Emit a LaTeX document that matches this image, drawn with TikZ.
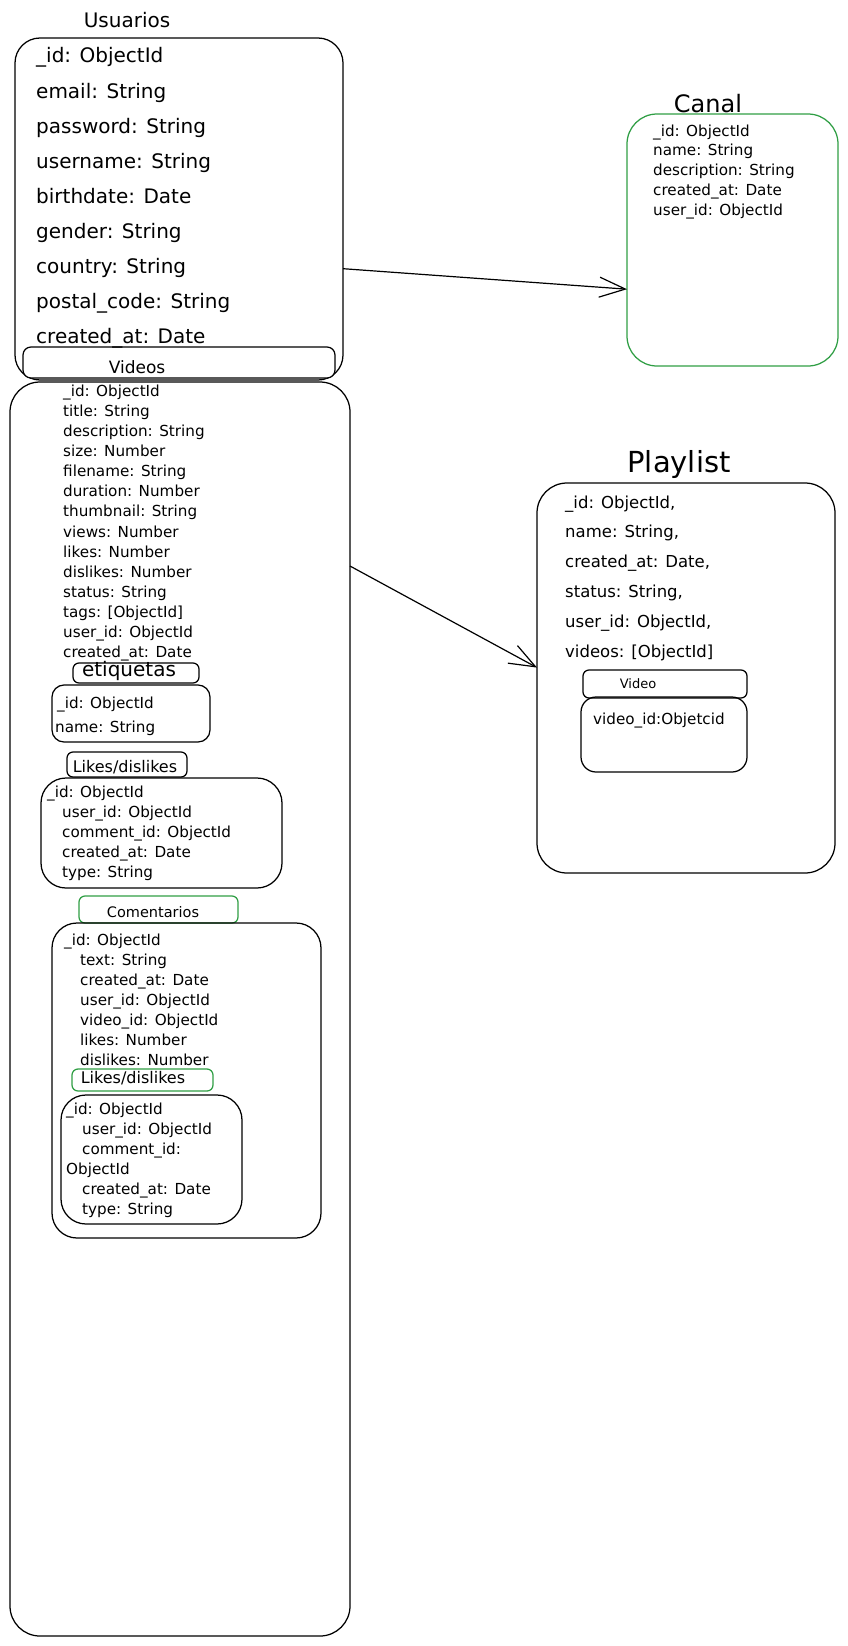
\documentclass[tikz,border=0pt]{standalone}
\usepackage{fontspec}
\setmainfont{DejaVu Sans}
\usetikzlibrary{arrows.meta,fit}
\definecolor{exgreen}{HTML}{2F9E44}
\begin{document}
\begin{tikzpicture}[x=1pt,y=-1pt,
  box/.style={draw, line width=1.25pt, inner sep=0pt, outer sep=0pt},
  gbox/.style={box, draw=exgreen},
  conn/.style={line width=1.2pt, -{Straight Barb[length=26pt,width=20pt,line width=1.2pt]}},
  tA/.style={font=\fontsize{20}{24}\selectfont, inner sep=0pt, anchor=base west},
  tB/.style={font=\fontsize{15.2}{18}\selectfont, inner sep=0pt, anchor=base west},
  tC/.style={font=\fontsize{16.5}{19}\selectfont, inner sep=0pt, anchor=base west},
  ttl/.style={inner sep=0pt, anchor=base}]
\useasboundingbox (0,0) rectangle (848,1646);

% ---------- boxes ----------
\node[box, rounded corners=25pt, fit={(15,38) (343,380)}] (usuarios) {};
\node[box, rounded corners=8pt, fill=white, fit={(23,347) (335,378)}] (vidhdr) {};
\node[box, rounded corners=30pt, fit={(10,382) (350,1636)}] (videos) {};
\node[gbox, rounded corners=30pt, fit={(627,114) (838,366)}] (canal) {};
\node[box, rounded corners=30pt, fit={(537,483) (835,873)}] (playlist) {};
\node[box, rounded corners=6pt, fit={(583,670) (747,698)}] (pvidhdr) {};
\node[box, rounded corners=15pt, fit={(581,697) (747,772)}] (pvid) {};
\node[box, rounded corners=6pt, fit={(73,663) (199,683)}] (etiqhdr) {};
\node[box, rounded corners=12pt, fit={(52,685) (210,742)}] (etiq) {};
\node[box, rounded corners=6pt, fit={(67,752) (187,777)}] (likehdrA) {};
\node[box, rounded corners=25pt, fit={(41,778) (282,888)}] (likeA) {};
\node[gbox, rounded corners=6pt, fit={(79,896) (238,923)}] (comhdr) {};
\node[box, rounded corners=25pt, fit={(52,923) (321,1238)}] (com) {};
\node[gbox, rounded corners=6pt, fit={(72,1069) (213,1091)}] (likehdrB) {};
\node[box, rounded corners=25pt, fit={(61,1095) (242,1224)}] (likeB) {};

% ---------- titles ----------
\node[ttl, font=\fontsize{20}{24}\selectfont] (tusu) at (127,28) {Usuarios};
\node[ttl, font=\fontsize{24}{28}\selectfont] (tcanal) at (708,112) {Canal};
\node[ttl, font=\fontsize{29}{34}\selectfont] (tplay) at (679,472) {Playlist};
\node[ttl, font=\fontsize{17}{20}\selectfont] (tvid) at (137,373) {Videos};
\node[ttl, font=\fontsize{20}{24}\selectfont] (tetiq) at (129,676) {etiquetas};
\node[ttl, font=\fontsize{16}{19}\selectfont] (tlikeA) at (125,772) {Likes/dislikes};
\node[ttl, font=\fontsize{14.5}{17}\selectfont] (tcom) at (153,917) {Comentarios};
\node[ttl, font=\fontsize{16}{19}\selectfont] (tlikeB) at (133,1083) {Likes/dislikes};
\node[ttl, font=\fontsize{13}{16}\selectfont] (tpvid) at (638,688) {Video};

% ---------- rows ----------
\foreach \t [count=\i from 0] in {{\_id: ObjectId},{email: String},{password: String},{username: String},{birthdate: Date},{gender: String},{country: String},{postal\_code: String},{created\_at: Date}}
  \node[tA] (u\i) at (36,{63+35*\i}) {\t};

\foreach \t [count=\i from 0] in {{\_id: ObjectId},{name: String},{description: String},{created\_at: Date},{user\_id: ObjectId}}
  \node[tB] (c\i) at (653,{136+19.75*\i}) {\t};

\foreach \t [count=\i from 0] in {{\_id: ObjectId},{title: String},{description: String},{size: Number},{filename: String},{duration: Number},{thumbnail: String},{views: Number},{likes: Number},{dislikes: Number},{status: String},{tags: [ObjectId]},{user\_id: ObjectId},{created\_at: Date}}
  \node[tB] (v\i) at (63,{396+20.15*\i}) {\t};

\foreach \t [count=\i from 0] in {{\_id: ObjectId,},{name: String,},{created\_at: Date,},{status: String,},{user\_id: ObjectId,},{videos: [ObjectId]}}
  \node[tC] (p\i) at (565,{508+29.8*\i}) {\t};

\node[tB] (pv0) at (593,724) {video\_id:Objetcid};

\node[tB] (e0) at (57,708) {\_id: ObjectId};
\node[tB] (e1) at (55,732) {name: String};

\node[tB] (la0) at (47,797) {\_id: ObjectId};
\foreach \t [count=\i] in {{user\_id: ObjectId},{comment\_id: ObjectId},{created\_at: Date},{type: String}}
  \node[tB] (la\i) at (62,{797+20.2*\i}) {\t};

\node[tB] (m0) at (64,945) {\_id: ObjectId};
\foreach \t [count=\i] in {{text: String},{created\_at: Date},{user\_id: ObjectId},{video\_id: ObjectId},{likes: Number},{dislikes: Number}}
  \node[tB] (m\i) at (80,{945+20*\i}) {\t};

\node[tB] (lb0) at (66,1114) {\_id: ObjectId};
\node[tB] (lb1) at (82,1134) {user\_id: ObjectId};
\node[tB] (lb2) at (82,1154) {comment\_id:};
\node[tB] (lb3) at (66,1174) {ObjectId};
\node[tB] (lb4) at (82,1194) {created\_at: Date};
\node[tB] (lb5) at (82,1214) {type: String};

% ---------- connectors ----------
\draw[conn] (usuarios.-20.7) -- (canal.205.5);
\draw[conn] (videos.69.6) -- (playlist.176.9);
\end{tikzpicture}
\end{document}
